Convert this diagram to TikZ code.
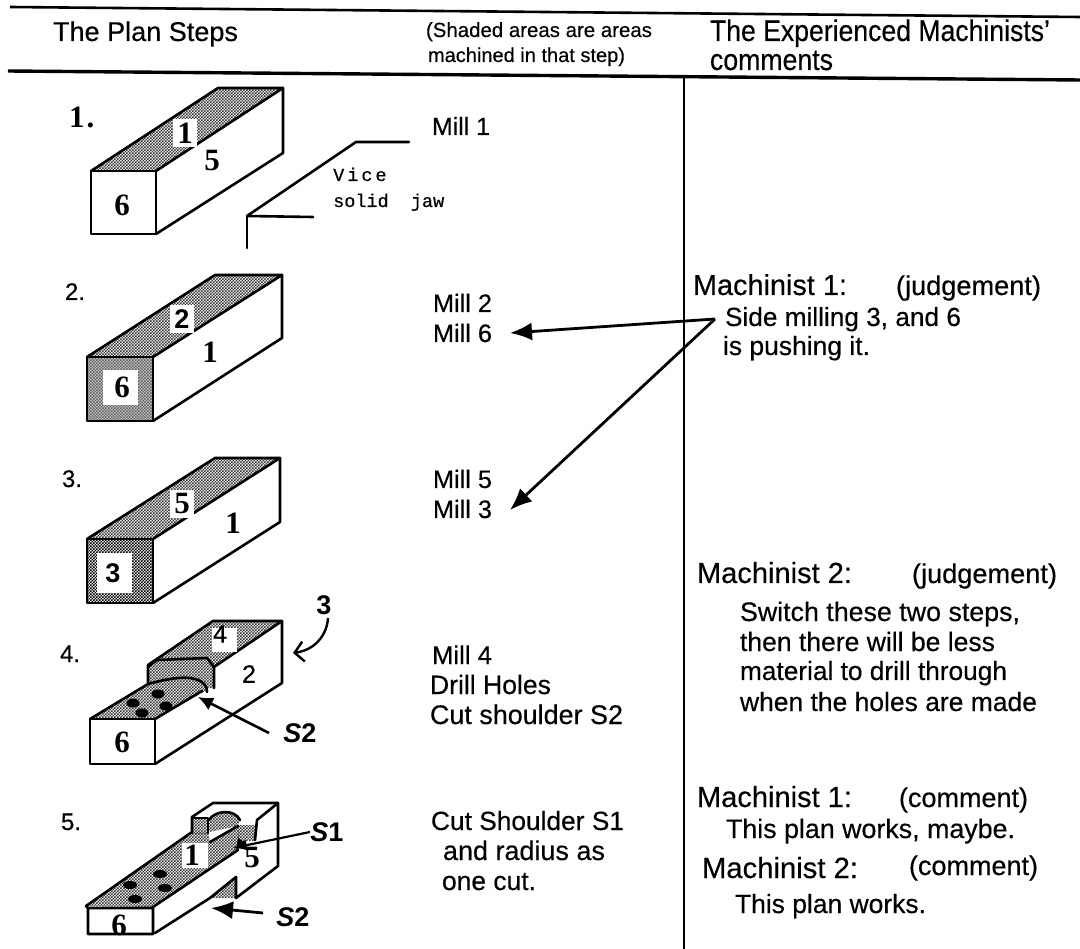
\documentclass[tikz,border=0pt]{standalone}
\usepackage{fontspec}
\usepackage{graphicx}
\setmainfont{Liberation Sans}[FakeBold=0.35]
\newfontfamily\numfont{Liberation Serif}[BoldFont={Liberation Serif Bold}]
\newfontfamily\vicefont{Liberation Mono}[FakeBold=0.5]
\newfontfamily\handfont{Liberation Sans}[BoldFont={Liberation Sans Bold}]
\usetikzlibrary{patterns,arrows.meta,calc}
\pgfdeclarepatternformonly{scandots}{\pgfqpoint{-0.1pt}{-0.1pt}}{\pgfqpoint{3.1pt}{3.1pt}}{\pgfqpoint{3pt}{3pt}}{%
  \pgfpathrectangle{\pgfqpoint{0pt}{0pt}}{\pgfqpoint{1.5pt}{1.5pt}}%
  \pgfpathrectangle{\pgfqpoint{1.5pt}{1.5pt}}{\pgfqpoint{1.5pt}{1.5pt}}%
  \pgfusepath{fill}}
\newcommand\tw[2]{\resizebox{#1pt}{!}{#2}}
\tikzset{
  txt/.style={anchor=base west,inner sep=0pt,outer sep=0pt,font=\fontsize{24}{24}\selectfont},
  num/.style={inner sep=0pt,font=\fontsize{31}{31}\selectfont\numfont\bfseries},
  hand/.style={inner sep=0pt,font=\fontsize{27}{27}\selectfont\handfont\bfseries},
  vice/.style={anchor=base west,inner sep=0pt,font=\fontsize{18.5}{20}\selectfont\vicefont},
  shade/.style={pattern=scandots,pattern color=black!78},
  shadedark/.style={pattern=scandots,pattern color=black},
  edge/.style={line width=2.6pt,line join=round,line cap=round},
  rule/.style={line width=2.6pt},
  patch/.style={fill=white,draw=none},
  hole/.style={fill=black,draw=none},
  lead/.style={line width=2.8pt,-{Latex[length=22pt,width=18pt]}},
  leadsm/.style={line width=2.6pt,-{Latex[length=15pt,width=14pt]}},
}
\begin{document}
\begin{tikzpicture}[x=1pt,y=-1pt]
\useasboundingbox (0,0) rectangle (1080,949);
\fill[white] (0,0) rectangle (1080,949);

% rules
\coordinate (t1) at (10,7); \coordinate (t2) at (1080,17);
\coordinate (m1) at (8,71); \coordinate (m2) at (1080,80);
\coordinate (v1) at (684,76); \coordinate (v2) at (684,949);
\draw[rule] (t1) -- (t2);
\draw[line width=3.4pt] (m1) -- (m2);
\draw[line width=2.2pt] (v1) -- (v2);

% header
\node[txt] (h1) at (53,41) {\tw{185}{The Plan Steps}};
\node[txt] (h2) at (426,37) {\tw{226}{(Shaded areas are areas}};
\node[txt] (h3) at (428,62) {\tw{197}{machined in that step)}};
\node[txt] (h4) at (710,41) {\scalebox{1}[1.12]{\tw{340}{The Experienced Machinists'}}};
\node[txt] (h5) at (710,70) {\scalebox{1}[1.12]{\tw{123}{comments}}};

% step numbers
\node[num,anchor=base west] (n1) at (68,128) {\kern1pt 1\kern2pt .};
\node[txt] (n2) at (65,300) {2.};
\node[txt] (n3) at (62,487) {3.};
\node[txt] (n4) at (60,662) {4.};
\node[txt] (n5) at (61,830) {5.};

% box 1
\fill[shade] (91,171) -- (218,88) -- (283,88) -- (156,171) -- cycle;
\draw[edge] (91,171) rectangle (156,234);
\draw[edge] (91,171) -- (218,88) -- (283,88) -- (156,171);
\draw[edge] (283,88) -- (283,153) -- (156,234);
\fill[patch] (173,119) rectangle (197,147);
\node[num] (b1a) at (185,133) {1};
\node[num] (b1b) at (212,161) {5};
\node[num] (b1c) at (122,205) {6};
% vice
\coordinate (va) at (409,142); \coordinate (vb) at (356,142); \coordinate (vc) at (247,216);
\coordinate (vd) at (313,217); \coordinate (ve) at (247,248);
\draw[edge] (va) -- (vb) -- (vc) -- (vd);
\draw[edge] (vc) -- (ve);
\node[vice] (v3) at (333,181) {V\kern3pt i\kern3pt c\kern3pt e};
\node[vice] (v4) at (333,207) {solid\ \ jaw};
\node[txt] (l1) at (432,135) {\tw{58}{Mill 1}};

% box 2
\fill[shade] (87,357) -- (215,275) -- (282,275) -- (153,357) -- cycle;
\fill[shadedark] (87,357) rectangle (153,421);
\fill[black!35,opacity=.6] (87,357) rectangle (153,421);
\draw[edge] (87,357) rectangle (153,421);
\draw[edge] (87,357) -- (215,275) -- (282,275) -- (153,357);
\draw[edge] (282,275) -- (282,338) -- (153,421);
\fill[patch] (170,305) rectangle (194,333);
\fill[patch] (103,370) rectangle (138,405);
\node[hand] (b2a) at (182,319) {2};
\node[num] (b2b) at (210,352) {1};
\node[num] (b2c) at (122,387) {6};

% box 3
\fill[shade] (87,539) -- (215,458) -- (280,458) -- (153,539) -- cycle;
\fill[shadedark] (87,539) rectangle (153,603);
\draw[edge] (87,539) rectangle (153,603);
\draw[edge] (87,539) -- (215,458) -- (280,458) -- (153,539);
\draw[edge] (280,458) -- (280,522) -- (153,603);
\fill[patch] (170,490) rectangle (194,518);
\fill[patch] (97,553) rectangle (132,593);
\node[num] (b3a) at (182,504) {5};
\node[num] (b3b) at (233,523) {1};
\node[hand] (b3c) at (113,573) {3};

% box 4
\fill[shade] (90,719) -- (148,684) .. controls (170,678) and (190,675) .. (200,681) .. controls (206,684) and (207,688) .. (207,690) -- (155,719) -- cycle;
\fill[shade] (148,665) -- (157,660) -- (207,658) -- (214,667) -- (214,688) -- (207,688) .. controls (200,675) and (170,678) .. (148,684) -- cycle;
\fill[shade] (148,665) -- (213,621) -- (282,621) -- (214,667) -- (207,658) -- (157,660) -- cycle;
\draw[edge] (90,719) -- (155,719) -- (155,764) -- (90,764) -- cycle;
\draw[edge] (90,719) -- (148,684) -- (148,665) -- (213,621) -- (282,621) -- (214,667) -- (214,688);
\draw[edge] (155,719) -- (202,691);
\draw[edge] (148,684) .. controls (170,678) and (190,675) .. (200,681) .. controls (206,684) and (207,688) .. (207,692);
\draw[edge] (148,667) -- (157,660) -- (207,658) -- (214,667);
\draw[edge] (282,621) -- (282,683) -- (155,764);
\fill[patch] (212,628) rectangle (237,652);
\foreach \hx/\hy in {133/703,158/694,166/706,142/713}
  \fill[hole] (\hx,\hy) ellipse (6.5 and 4.5);
\node[txt,anchor=center] (b4a) at (220,634) {\tw{14}{4}};
\node[txt,anchor=center] (b4b) at (249,674) {\tw{14}{2}};
\node[num] (b4c) at (122,742) {6};
\node[hand] (b4d) at (324,605) {3};
\node[hand] (s4) at (300,733) {\itshape S\upshape 2};
\coordinate (c1) at (328,618); \coordinate (c2) at (293,653);
\draw[line width=2.4pt,-{Straight Barb[length=9pt,width=20pt]}] (c1) .. controls (327,635) and (315,650) .. (c2);
\coordinate (a1) at (269,733); \coordinate (a2) at (198,697);
\draw[leadsm] (a1) -- (a2);

% box 5
\fill[shade] (86,906) -- (192,832) -- (208,832) -- (210,842) -- (238,826) -- (240,840) -- (236,850) -- (153,907) -- cycle;
\fill[shade] (192,818) rectangle (208,833);
\fill[shade] (238,825) rectangle (256,840);
\fill[shade] (209,832) -- (209,820) .. controls (215,810) and (235,809) .. (240,820) -- (238,826) -- cycle;
\fill[black] (236,850) -- (238,838) -- (246,843) -- (243,846) -- cycle;
\draw[edge] (86,906) -- (88,908) -- (88,934) -- (153,934) -- (153,908) -- (88,908);
\draw[edge] (86,906) -- (192,832) -- (192,817) -- (213,803) -- (278,803) -- (278,866) -- (236,898);
\draw[edge] (278,803) -- (257,820) -- (255,840);
\draw[edge] (192,818) -- (208,818) -- (208,833);
\draw[edge] (153,907) -- (238,850);
\draw[edge] (155,933) -- (210,898);
\draw[edge] (209,820) .. controls (215,810) and (235,809) .. (240,820);
\draw[edge] (210,842) -- (238,826);
\fill[shade] (210,898) -- (236,877) -- (236,898) -- cycle;
\draw[edge] (210,898) -- (236,877) -- (236,898);
\fill[patch] (182,843) rectangle (208,868);
\foreach \hx/\hy in {130/885,160/874,165/888,135/899}
  \fill[hole] (\hx,\hy) ellipse (7 and 4);
\node[num] (b5a) at (192,855) {1};
\node[num] (b5b) at (252,857) {5};
\node[num] (b5c) at (119,925) {6};
\node[hand] (s5a) at (327,832) {\itshape S\upshape 1};
\node[hand] (s5b) at (293,917) {\itshape S\upshape 2};
\coordinate (a3) at (310,832); \coordinate (a4) at (233,848);
\coordinate (a5) at (263,913); \coordinate (a6) at (211,908);
\draw[line width=2.2pt,-{Latex[length=14pt,width=11pt]}] (a3) -- (a4);
\draw[lead] (a5) -- (a6);

% mill texts
\node[txt] (l2a) at (433,312) {\tw{59}{Mill 2}};
\node[txt] (l2b) at (433,342) {\tw{59}{Mill 6}};
\node[txt] (l3a) at (433,488) {\tw{59}{Mill 5}};
\node[txt] (l3b) at (433,518) {\tw{59}{Mill 3}};
\node[txt] (l4a) at (432,664) {\tw{60}{Mill 4}};
\node[txt] (l4b) at (430,694) {\tw{121}{Drill Holes}};
\node[txt] (l4c) at (430,724) {\tw{193}{Cut shoulder S2}};
\node[txt] (l5a) at (431,830) {\tw{193}{Cut Shoulder S1}};
\node[txt] (l5b) at (443,860) {\tw{162}{and radius as}};
\node[txt] (l5c) at (442,890) {\tw{94}{one cut.}};

% comment arrows
\coordinate (p0) at (715,319); \coordinate (p1) at (510,333); \coordinate (p2) at (510,510);
\draw[lead] (p0) -- (p1);
\draw[lead] (p0) -- (p2);

% comments
\node[txt] (c11) at (693,295) {\tw{154}{Machinist 1:}};
\node[txt] (c12) at (896,295) {\tw{145}{(judgement)}};
\node[txt] (c13) at (725,326) {\tw{236}{Side milling 3, and 6}};
\node[txt] (c14) at (723,355) {\tw{147}{is pushing it.}};
\node[txt] (c21) at (697,583) {\tw{155}{Machinist 2:}};
\node[txt] (c22) at (912,583) {\tw{145}{(judgement)}};
\node[txt] (c23) at (740,621) {\tw{280}{Switch these two steps,}};
\node[txt] (c24) at (740,651) {\tw{255}{then there will be less}};
\node[txt] (c25) at (740,680) {\tw{267}{material to drill through}};
\node[txt] (c26) at (740,711) {\tw{297}{when the holes are made}};
\node[txt] (c31) at (697,807) {\tw{155}{Machinist 1:}};
\node[txt] (c32) at (899,807) {\tw{129}{(comment)}};
\node[txt] (c33) at (726,838) {\tw{289}{This plan works, maybe.}};
\node[txt] (c41) at (702,878) {\tw{156}{Machinist 2:}};
\node[txt] (c42) at (909,875) {\tw{129}{(comment)}};
\node[txt] (c43) at (735,913) {\tw{191}{This plan works.}};
\end{tikzpicture}
\end{document}
